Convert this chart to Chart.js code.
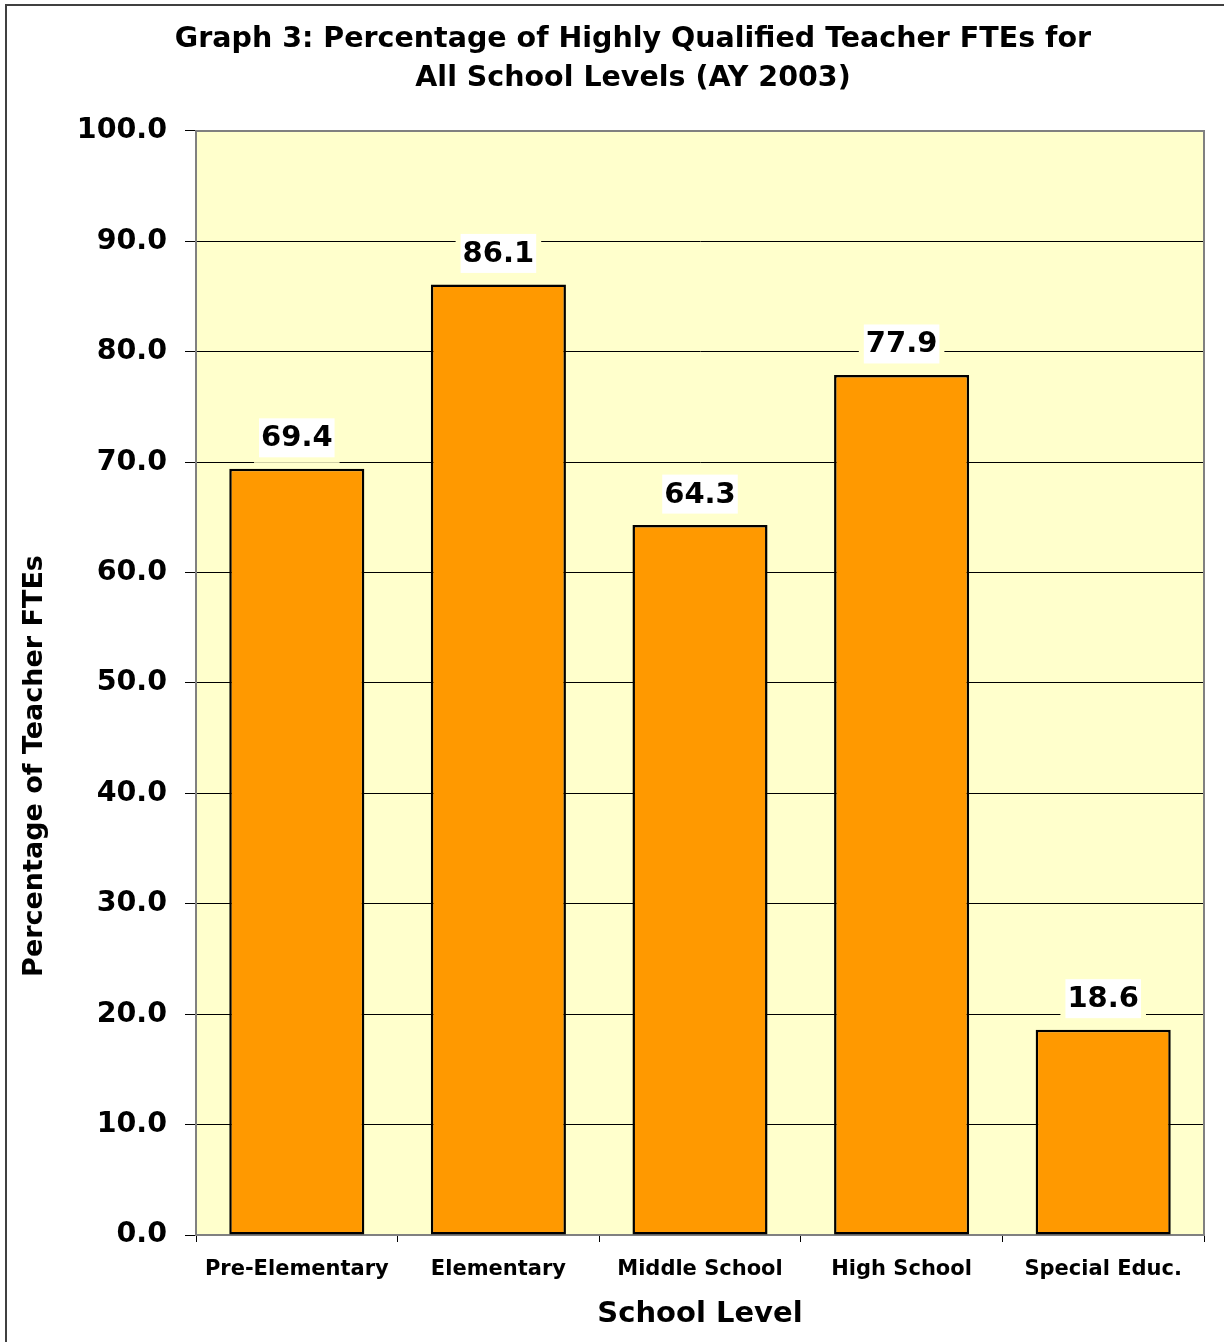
<!DOCTYPE html>
<html>
<head>
<meta charset="utf-8">
<title>Graph 3</title>
<script src="https://cdn.jsdelivr.net/npm/chart.js"></script>
<style>
    html, body { margin: 0; padding: 0; background: #ffffff; }
    #wrap { width: 1224px; height: 1342px; position: relative; }
</style>
</head>
<body>
<div id="wrap"><canvas id="hqtChart"></canvas></div>

<script>
    const schoolLevels = ['Pre-Elementary', 'Elementary', 'Middle School', 'High School', 'Special Educ.'];
    const hqtPercent = [69.4, 86.1, 64.3, 77.9, 18.6];
    const yTickValues = [0, 10, 20, 30, 40, 50, 60, 70, 80, 90, 100];

    const FONT = '"DejaVu Sans", Verdana, sans-serif';
    const PLOT_BG = '#FFFFCC';
    const AXIS_GREY = '#808080';

    // background of the plot, outer frame, plot border, axis titles
    const frame = {
        id: 'frame',
        beforeDraw(chart) {
            const { ctx, chartArea: a } = chart;
            ctx.save();
            ctx.fillStyle = PLOT_BG;
            ctx.fillRect(a.left, a.top, a.right - a.left, a.bottom - a.top);
            ctx.strokeStyle = '#404040';
            ctx.lineWidth = 2;
            ctx.strokeRect(6, 5, chart.width + 20, chart.height + 20);
            ctx.restore();
        },
        afterDraw(chart) {
            const { ctx, chartArea: a } = chart;
            ctx.save();
            ctx.strokeStyle = AXIS_GREY;
            ctx.lineWidth = 2;
            ctx.beginPath();
            ctx.moveTo(a.left, a.top);
            ctx.lineTo(a.right, a.top);
            ctx.lineTo(a.right, a.bottom);
            ctx.stroke();

            ctx.fillStyle = '#000';
            ctx.textAlign = 'center';
            ctx.textBaseline = 'middle';
            ctx.font = 'bold 29px ' + FONT;
            ctx.fillText('School Level', (a.left + a.right) / 2, 1314);

            ctx.translate(35, 766);
            ctx.rotate(-Math.PI / 2);
            ctx.font = 'bold 27px ' + FONT;
            ctx.fillText('Percentage of Teacher FTEs', 0, 0);
            ctx.restore();
        }
    };

    // value labels above the bars, on a white box that breaks the gridline
    const valueLabels = {
        id: 'valueLabels',
        afterDatasetsDraw(chart) {
            const { ctx } = chart;
            const meta = chart.getDatasetMeta(0);
            ctx.save();
            ctx.font = 'bold 29px ' + FONT;
            ctx.textAlign = 'center';
            ctx.textBaseline = 'middle';
            meta.data.forEach((bar, i) => {
                const txt = hqtPercent[i].toFixed(1);
                const w = ctx.measureText(txt).width + 4;
                const cy = bar.y - 31;
                ctx.fillStyle = PLOT_BG;
                ctx.fillRect(bar.x - w / 2 - 5, cy - 19, w + 10, 44);
                ctx.fillStyle = '#ffffff';
                ctx.fillRect(bar.x - w / 2, cy - 19.5, w, 39);
                ctx.fillStyle = '#000';
                ctx.fillText(txt, bar.x, cy + 1);
            });
            ctx.restore();
        }
    };

    new Chart(document.getElementById('hqtChart'), {
        type: 'bar',
        data: {
            labels: schoolLevels,
            datasets: [{
                data: hqtPercent,
                backgroundColor: '#FF9900',
                borderColor: '#000000',
                borderWidth: 2.5,
                borderSkipped: false,
                categoryPercentage: 1,
                barPercentage: 0.67
            }]
        },
        options: {
            responsive: true,
            maintainAspectRatio: false,
            animation: false,
            layout: { padding: { left: 62, right: 20, top: 0, bottom: 0 } },
            plugins: {
                legend: { display: false },
                tooltip: { enabled: false },
                title: {
                    display: true,
                    text: ['Graph 3: Percentage of Highly Qualified Teacher FTEs for', 'All School Levels (AY 2003)'],
                    color: '#000',
                    font: { family: FONT, size: 28.5, weight: 'bold', lineHeight: 1.368 },
                    padding: { top: 20, bottom: 33 }
                }
            },
            scales: {
                x: {
                    afterFit: (scale) => { scale.height = 107; },
                    grid: {
                        offset: true,
                        drawOnChartArea: false,
                        tickLength: 7,
                        color: AXIS_GREY,
                        tickColor: '#000'
                    },
                    border: { color: AXIS_GREY, width: 2 },
                    ticks: {
                        color: '#000',
                        padding: 15,
                        maxRotation: 0,
                        font: { family: FONT, size: 21, weight: 'bold' }
                    }
                },
                y: {
                    min: 0,
                    max: 100,
                    afterFit: (scale) => { scale.width = 134; },
                    afterBuildTicks: (scale) => { scale.ticks = yTickValues.map(v => ({ value: v })); },
                    grid: { color: '#000', lineWidth: 1, tickLength: 11, tickColor: '#000' },
                    border: { color: AXIS_GREY, width: 2 },
                    ticks: {
                        color: '#000',
                        padding: 18,
                        font: { family: FONT, size: 28.5, weight: 'bold' },
                        callback: (v) => Number(v).toFixed(1)
                    }
                }
            }
        },
        plugins: [frame, valueLabels]
    });
</script>
</body>
</html>
